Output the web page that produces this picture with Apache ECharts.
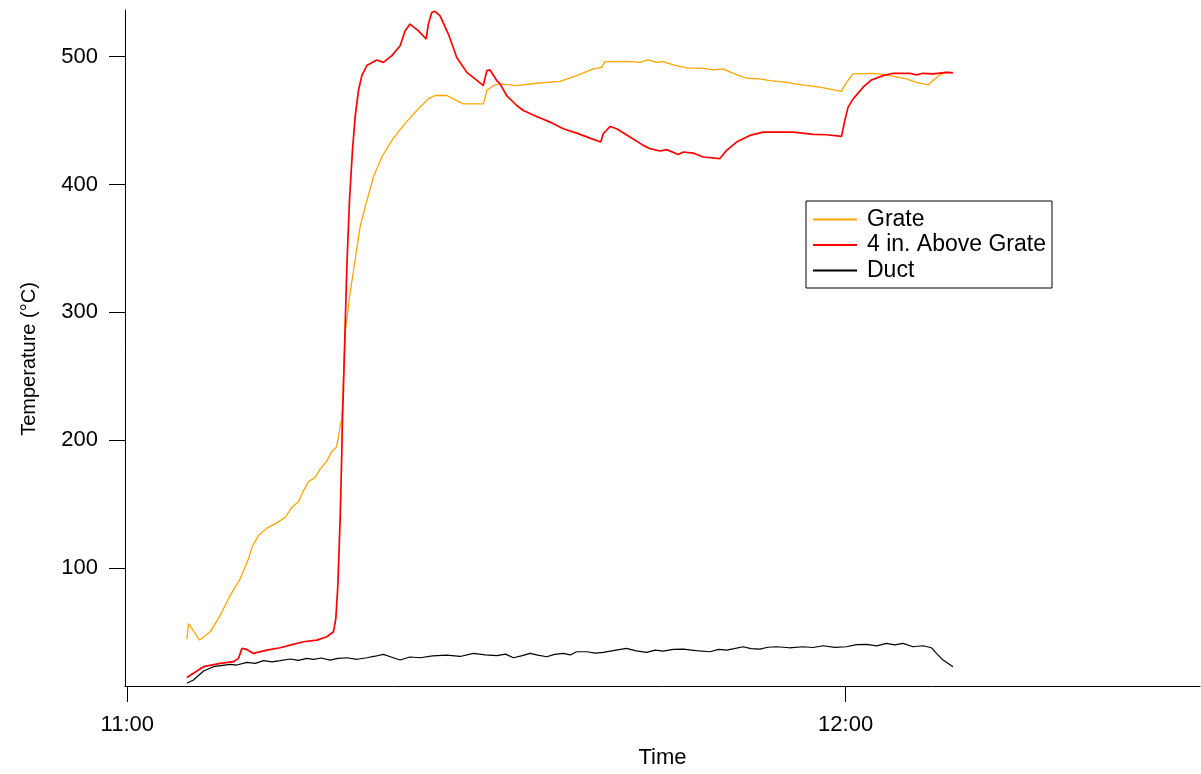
<!DOCTYPE html>
<html>
<head>
<meta charset="utf-8">
<title>Temperature</title>
<script src="https://cdn.jsdelivr.net/npm/echarts@6/dist/echarts.min.js"></script>
<style>
  html, body { margin: 0; padding: 0; background: #fff; }
  #chart { width: 1201px; height: 774px; }
</style>
</head>
<body>
<div id="chart"></div>
<script>
// Time is in minutes after 11:00; temperatures in °C.
const seriesNames = ['Grate', '4 in. Above Grate', 'Duct'];

const grateTime = [4.98, 5.12, 6.04, 6.93, 7.76, 8.60, 9.43, 10.13, 10.41, 10.96, 11.66, 12.50, 13.19, 13.75, 14.30, 14.72, 15.13, 15.69, 16.11, 16.67, 17.09, 17.45, 17.64, 17.78, 17.92, 18.20, 18.61, 19.03, 19.45, 19.87, 20.56, 21.26, 22.10, 23.06, 24.18, 25.15, 25.71, 26.69, 27.24, 28.07, 29.74, 30.03, 30.58, 31.14, 32.53, 34.20, 36.14, 37.54, 38.92, 39.62, 39.90, 41.71, 42.82, 43.51, 44.22, 44.77, 45.60, 46.72, 48.11, 48.94, 49.77, 50.61, 51.73, 52.84, 53.67, 55.07, 56.18, 57.85, 59.66, 59.79, 60.08, 60.63, 62.30, 63.41, 65.08, 65.92, 66.89, 67.30, 67.86, 68.42, 68.97];
const grateTemp = [44.3, 56.6, 43.6, 50.1, 63.0, 78.6, 91.6, 107.2, 116.3, 125.4, 131.2, 135.3, 139.7, 147.5, 151.9, 160.5, 167.5, 170.9, 177.4, 183.8, 191.2, 194.3, 202.1, 211.1, 216.3, 283.9, 315.1, 341.0, 367.0, 382.5, 405.9, 421.5, 434.5, 446.2, 457.9, 467.0, 469.6, 469.6, 467.0, 463.1, 463.1, 473.5, 477.4, 478.7, 477.4, 479.2, 480.7, 485.2, 490.4, 491.6, 496.1, 496.3, 495.5, 497.4, 495.5, 496.1, 493.5, 491.2, 490.9, 489.6, 490.4, 487.0, 483.1, 482.6, 481.3, 479.9, 478.2, 476.1, 472.9, 473.5, 479.9, 486.5, 487.0, 485.7, 482.6, 479.9, 477.9, 481.3, 485.7, 487.7, 487.7];

const aboveTime = [4.98, 6.37, 7.76, 8.87, 9.29, 9.57, 9.99, 10.54, 11.66, 12.77, 13.61, 14.72, 15.83, 16.67, 17.22, 17.42, 17.59, 17.78, 17.92, 17.95, 18.06, 18.20, 18.34, 18.56, 18.81, 19.03, 19.31, 19.59, 20.01, 20.84, 21.39, 22.10, 22.79, 23.21, 23.62, 24.32, 24.96, 25.15, 25.43, 25.71, 26.13, 26.82, 27.52, 28.36, 29.05, 29.74, 30.03, 30.30, 30.86, 31.14, 31.69, 32.53, 33.08, 34.20, 35.31, 36.42, 37.54, 38.65, 39.54, 39.76, 40.32, 40.88, 41.99, 43.10, 43.66, 44.49, 45.05, 46.02, 46.44, 47.27, 48.11, 49.50, 50.06, 50.89, 52.00, 53.11, 55.62, 57.29, 58.41, 59.66, 59.93, 60.21, 60.63, 61.46, 62.16, 63.13, 63.96, 65.36, 65.92, 66.47, 67.30, 68.42, 68.97];
const aboveTemp = [14.3, 22.8, 25.4, 26.7, 29.3, 37.1, 36.3, 33.2, 35.8, 37.6, 39.7, 42.3, 43.6, 46.2, 50.1, 60.5, 86.4, 138.4, 190.4, 208.5, 242.3, 289.0, 335.8, 387.8, 426.7, 452.7, 473.5, 485.2, 493.0, 497.4, 495.5, 500.8, 508.5, 520.2, 525.5, 520.2, 513.8, 525.5, 534.5, 535.5, 531.9, 517.7, 499.4, 487.7, 482.6, 477.4, 489.1, 489.6, 481.3, 478.7, 469.6, 461.8, 457.9, 453.2, 448.8, 443.6, 440.2, 436.3, 433.2, 439.7, 445.4, 443.6, 437.1, 430.6, 428.0, 426.2, 427.3, 423.4, 425.4, 424.6, 421.5, 420.3, 426.7, 433.2, 438.4, 441.0, 441.0, 439.2, 438.9, 437.6, 450.1, 460.5, 467.0, 476.1, 481.8, 485.2, 487.0, 487.0, 485.7, 487.0, 486.5, 487.7, 487.3];

const ductTime = [4.98, 5.53, 6.37, 7.20, 8.60, 9.16, 9.99, 10.70, 11.38, 12.10, 12.77, 13.61, 14.30, 15.00, 15.55, 16.20, 16.94, 17.60, 18.34, 19.20, 20.01, 20.70, 21.39, 22.10, 22.79, 23.60, 24.46, 25.50, 26.69, 27.80, 28.91, 29.90, 30.86, 31.60, 32.25, 33.00, 33.64, 34.30, 35.03, 35.70, 36.42, 37.00, 37.54, 38.37, 39.10, 39.76, 40.70, 41.71, 42.50, 43.38, 44.10, 44.77, 45.60, 46.44, 47.50, 48.66, 49.40, 50.06, 50.70, 51.44, 52.10, 52.84, 53.50, 54.23, 55.30, 56.45, 57.30, 58.12, 59.10, 60.08, 60.90, 61.74, 62.60, 63.41, 64.10, 64.80, 65.63, 66.47, 67.17, 67.59, 68.14, 68.97];
const ductTemp = [9.8, 12.4, 19.4, 22.8, 24.6, 24.1, 26.2, 25.4, 27.5, 26.6, 27.5, 28.8, 27.7, 29.3, 28.5, 29.6, 28.0, 29.3, 29.8, 28.6, 29.8, 31.0, 32.4, 30.2, 28.0, 30.4, 29.8, 31.2, 31.9, 30.8, 33.2, 32.0, 31.4, 32.6, 29.8, 31.5, 33.2, 31.8, 30.6, 32.4, 33.2, 32.0, 34.5, 34.5, 33.4, 34.0, 35.6, 37.1, 35.2, 34.0, 35.8, 35.0, 36.4, 36.5, 35.4, 34.5, 36.3, 35.8, 37.0, 38.4, 36.9, 36.5, 38.0, 38.4, 37.6, 38.4, 37.8, 39.2, 37.9, 38.4, 40.0, 40.2, 39.1, 41.0, 39.8, 41.0, 38.4, 39.2, 37.6, 33.2, 28.0, 22.8];

const tempTicks = [100, 200, 300, 400, 500];
const timeTicks = [0, 60];
const timeTickLabels = ['11:00', '12:00'];

const pairs = (xs, ys) => xs.map((x, i) => [x, ys[i]]);

const FONT = 'Liberation Sans, Arial, sans-serif';

const chart = echarts.init(document.getElementById('chart'), null, { renderer: 'canvas' });

chart.setOption({
  animation: false,
  backgroundColor: '#ffffff',
  grid: { left: 125, right: 1, top: 10, bottom: 86, containLabel: false },
  xAxis: {
    type: 'value',
    min: -0.19,
    max: 89.6,
    name: 'Time',
    nameLocation: 'middle',
    nameGap: 61,
    nameTextStyle: { color: '#000', fontFamily: FONT, fontSize: 22 },
    splitLine: { show: false },
    axisLine: { show: true, onZero: false, lineStyle: { color: '#000', width: 1 } },
    axisTick: { show: true, inside: false, length: 16, customValues: timeTicks, lineStyle: { color: '#000', width: 1 } },
    axisLabel: {
      customValues: timeTicks,
      margin: 28,
      color: '#000', fontFamily: FONT, fontSize: 22,
      formatter: v => timeTickLabels[timeTicks.indexOf(v)] || ''
    }
  },
  yAxis: {
    type: 'value',
    min: 7.7,
    max: 536.5,
    name: 'Temperature (°C)',
    nameLocation: 'middle',
    nameGap: 86,
    nameTextStyle: { color: '#000', fontFamily: FONT, fontSize: 20, padding: [0, 22, 0, 0] },
    splitLine: { show: false },
    axisLine: { show: true, onZero: false, lineStyle: { color: '#000', width: 1 } },
    axisTick: { show: true, inside: false, length: 16, customValues: tempTicks, lineStyle: { color: '#000', width: 1 } },
    axisLabel: {
      customValues: tempTicks,
      margin: 27,
      color: '#000', fontFamily: FONT, fontSize: 22
    }
  },
  legend: {
    orient: 'vertical',
    left: 806,
    top: 201,
    padding: [7, 6, 6, 7],
    itemGap: 2.5,
    itemWidth: 44,
    itemHeight: 2,
    icon: 'rect',
    borderColor: '#000',
    borderWidth: 1,
    borderRadius: 0,
    backgroundColor: '#fff',
    textStyle: { color: '#000', fontFamily: FONT, fontSize: 23, padding: [0, 0, 0, 5] },
    data: seriesNames
  },
  series: [
    {
      name: seriesNames[0], type: 'line', showSymbol: false, symbol: 'none',
      color: '#ffa500', lineStyle: { color: '#ffa500', width: 1.3 },
      data: pairs(grateTime, grateTemp), z: 3
    },
    {
      name: seriesNames[1], type: 'line', showSymbol: false, symbol: 'none',
      color: '#ff0000', lineStyle: { color: '#ff0000', width: 1.7 },
      data: pairs(aboveTime, aboveTemp), z: 4
    },
    {
      name: seriesNames[2], type: 'line', showSymbol: false, symbol: 'none',
      color: '#000000', lineStyle: { color: '#000000', width: 1.2 },
      data: pairs(ductTime, ductTemp), z: 5
    }
  ]
});
</script>
</body>
</html>
